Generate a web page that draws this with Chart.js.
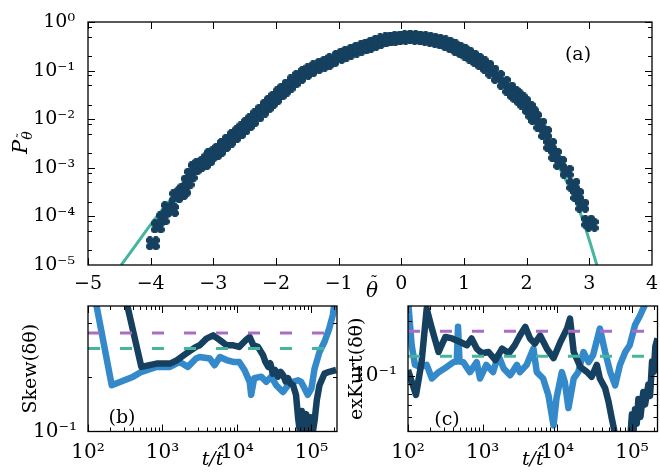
<!DOCTYPE html>
<html><head><meta charset="utf-8">
<script src="https://cdn.jsdelivr.net/npm/chart.js@4.4.1/dist/chart.umd.min.js"></script>
<style>
html,body{margin:0;padding:0;background:#fff;}
#wrap{position:relative;width:660px;height:474px;overflow:hidden;background:#fff;}
canvas{position:absolute;left:0;top:0;}
</style></head><body>
<div id="wrap">
<canvas id="cA" width="660" height="474"></canvas>
<canvas id="cB" width="660" height="474"></canvas>
<canvas id="cC" width="660" height="474"></canvas>
</div>
<script>
// ---------- Panel (a): PDF data ----------
const thetaData = [-3.965,-3.886,-3.807,-3.727,-3.66,-3.594,-3.515,-3.463,-3.41,-3.36,-3.30,-3.225,-3.146,-3.08,-3.04,-2.97,-2.908,-2.83,-2.75,-2.67,-2.59,-2.52,-2.45,-2.38,-2.30,-2.22,-2.15,-2.08,-2.01,-1.94,-1.87,-1.80,-1.72,-1.63,-1.535,-1.45,-1.36,-1.27,-1.19,-1.10,-1.0,-0.92,-0.848,-0.76,-0.68,-0.6,-0.53,-0.45,-0.37,-0.29,-0.21,-0.14,-0.06,0.02,0.1,0.18,0.26,0.34,0.42,0.5,0.58,0.66,0.737,0.82,0.9,0.98,1.054,1.13,1.21,1.29,1.37,1.45,1.54,1.635,1.72,1.79,1.85,1.905,1.96,2.032,2.09,2.136,2.216,2.295,2.374,2.453,2.533,2.639,2.745,2.808,2.887,2.982,3.035];
const pdfData = [2.8e-5,6.2e-5,9.1e-5,1.48e-4,1.35e-4,2.57e-4,3.0e-4,3.55e-4,5.2e-4,7.2e-4,9.8e-4,1.15e-3,1.26e-3,1.51e-3,1.82e-3,2.0e-3,2.34e-3,2.95e-3,3.63e-3,4.47e-3,5.37e-3,6.46e-3,7.94e-3,9.55e-3,1.2e-2,1.51e-2,1.86e-2,2.29e-2,2.75e-2,3.39e-2,4.07e-2,4.9e-2,6.03e-2,7.41e-2,8.91e-2,0.102,0.117,0.132,0.145,0.166,0.191,0.214,0.234,0.257,0.282,0.302,0.324,0.355,0.389,0.417,0.437,0.457,0.468,0.479,0.49,0.49,0.479,0.468,0.452,0.427,0.407,0.38,0.355,0.316,0.282,0.251,0.224,0.195,0.166,0.141,0.12,9.55e-2,7.41e-2,5.62e-2,4.27e-2,3.47e-2,2.95e-2,2.57e-2,2.19e-2,1.7e-2,1.32e-2,1.06e-2,7.76e-3,5.19e-3,2.98e-3,1.86e-3,1.26e-3,8.3e-4,4.47e-4,2.77e-4,1.66e-4,7.8e-5,6.7e-5];
const thetaFit = [-4.47,-4.2,-3.97,-3.67,-3.4,-3.1,-2.8,-2.33,-2.0,-1.6,-1.2,-0.8,-0.4,0.0,0.2,0.5,0.8,1.1,1.4,1.7,2.0,2.16,2.35,2.54,2.7,2.857,2.99,3.12];
const pdfFit = [1e-5,3.0e-5,7.6e-5,2.34e-4,6.3e-4,1.7e-3,4.17e-3,1.35e-2,2.82e-2,7.08e-2,0.145,0.251,0.372,0.468,0.49,0.437,0.324,0.204,0.11,5.01e-2,1.58e-2,7.41e-3,2.69e-3,9.1e-4,3.55e-4,1.17e-4,3.55e-5,1e-5];
const xTicksA = [-5,-4,-3,-2,-1,0,1,2,3,4];
const yTicksA = [1e-5,1e-4,1e-3,1e-2,1e-1,1];
const yMinorA = [2e-5,5e-5,8e-5,2e-4,5e-4,8e-4,2e-3,5e-3,8e-3,2e-2,5e-2,8e-2,0.2,0.5,0.8];

// ---------- Panel (b): Skew ----------
const tSkewLight = [100,208,405,523,832,1260,1700,2190,2820,3160,4320,5000,5890,7240,8900,10700,12600,14800,15500,17000,21200,24700,28800,33600,41400,48500,56600,66100,72400,80600,89000,100000,110000,128000,149000,173000,193000,205000,220000];
const skewLight = [0.89,0.181,0.202,0.215,0.229,0.229,0.244,0.229,0.255,0.26,0.255,0.234,0.26,0.25,0.244,0.244,0.22,0.189,0.16,0.198,0.202,0.189,0.202,0.181,0.166,0.181,0.189,0.193,0.189,0.174,0.16,0.174,0.224,0.277,0.315,0.374,0.444,0.53,0.6];
const tSkewDark = [300,520,832,1260,1550,2090,2820,3160,3890,4790,5890,7240,8900,10700,13200,14800,16600,19100,22400,24000,26300,28000,30200,32500,35500,38500,41700,45000,48500,52000,56600,62000,66000,70000,74000,78000,85000,90000,97000,104000,110000,118000,128000,149000,173000,214000];
const skewDark = [0.62,0.229,0.239,0.239,0.249,0.272,0.296,0.302,0.329,0.343,0.323,0.302,0.302,0.296,0.323,0.336,0.302,0.296,0.266,0.245,0.229,0.24,0.21,0.22,0.202,0.215,0.206,0.19,0.198,0.185,0.181,0.16,0.12,0.099,0.13,0.1,0.125,0.098,0.12,0.099,0.115,0.15,0.181,0.21,0.215,0.22];
const skewRefPurple = 0.354, skewRefTeal = 0.29;

// ---------- Panel (c): excess kurtosis ----------
const tKurtLight = [100,112,124,145,178,209,257,331,407,450,468,490,550,676,832,923,1120,1380,1620,1910,2340,2880,3160,3890,4790,5310,6460,7590,8900,9770,11500,12600,14100,16600,19100,22400,26300,30200,37200,43700,51300,59600,69200,81300,93300,110000,129000,148000,165000];
const kurtLight = [0.26,0.147,0.115,0.112,0.115,0.097,0.105,0.112,0.119,0.12,0.185,0.12,0.119,0.105,0.119,0.097,0.115,0.105,0.13,0.11,0.101,0.115,0.105,0.115,0.141,0.105,0.097,0.079,0.054,0.076,0.105,0.093,0.067,0.097,0.105,0.135,0.119,0.13,0.181,0.135,0.105,0.089,0.115,0.135,0.147,0.189,0.214,0.242,0.27];
const tKurtDark = [100,128,152,178,209,257,316,389,500,617,710,832,977,1200,1480,1820,2240,2690,3160,3720,4320,5000,5890,7240,8900,11000,13500,14800,16600,20400,25100,28800,33900,37200,43700,48400,53700,59600,70000,85000,95500,100000,105000,110000,116000,122000,130000,142000,150000,166000,175000,186000,196000,206000,220000];
const kurtDark = [0.108,0.079,0.119,0.232,0.181,0.135,0.163,0.16,0.153,0.147,0.16,0.141,0.133,0.135,0.122,0.141,0.133,0.147,0.166,0.185,0.16,0.15,0.166,0.141,0.125,0.153,0.181,0.205,0.135,0.112,0.105,0.099,0.115,0.097,0.086,0.073,0.059,0.048,0.035,0.035,0.048,0.062,0.05,0.066,0.055,0.075,0.06,0.082,0.07,0.09,0.078,0.12,0.105,0.145,0.16];
const kurtRefPurple = 0.175, kurtRefTeal = 0.128;

const tRefSpan = [100, 160000];
const xTicksLog = [1e2,1e3,1e4,1e5];
const xMinorLog = [2e2,3e2,4e2,5e2,6e2,7e2,8e2,9e2,2e3,3e3,4e3,5e3,6e3,7e3,8e3,9e3,2e4,3e4,4e4,5e4,6e4,7e4,8e4,9e4,2e5];
const yTicksB = [0.1], yMinorB = [0.2,0.4];
const yTicksC = [0.1], yMinorC = [0.05,0.06,0.07,0.08,0.09,0.2];

// ---------- styles ----------
const DARK = '#15405f', LIGHT = '#3389c9', TEAL = '#45b59b', PURPLE = '#ab6cc6';
const FONT = 'DejaVu Serif';
const TICKFONT_A = {family: FONT, size: 19};
const TICKFONT_B = {family: FONT, size: 20};
const TITLEFONT = {family: FONT, size: 19};

const SUP = {'-':'\u207B','0':'\u2070','1':'\u00B9','2':'\u00B2','3':'\u00B3','4':'\u2074','5':'\u2075','6':'\u2076','7':'\u2077','8':'\u2078','9':'\u2079'};
function powLabel(v){ const e = Math.round(Math.log10(v)); return '10' + String(e).split('').map(c => SUP[c]).join(''); }
function numLabel(v){ return v < 0 ? '\u2212' + Math.abs(v) : String(v); }

// fat X-shaped filled marker
function makeX(size, color){
  const c = document.createElement('canvas'); c.width = size; c.height = size;
  const g = c.getContext('2d'); const h = size/2, w = size*0.27;
  g.translate(h, h); g.rotate(Math.PI/4); g.fillStyle = color;
  g.fillRect(-h*1.15, -w, h*2.3, 2*w); g.fillRect(-w, -h*1.15, 2*w, h*2.3);
  return c;
}
const xMarker = makeX(14, DARK);

const framePlugin = {
  id: 'frame',
  afterDatasetsDraw(chart, args, o) {
    const ctx = chart.ctx, a = chart.chartArea, xs = chart.scales.x, ys = chart.scales.y;
    ctx.save(); ctx.strokeStyle = '#000'; ctx.lineWidth = 1;
    ctx.beginPath();
    const doX = (vals, len) => vals.forEach(v => { const p = Math.round(xs.getPixelForValue(v)) + 0.5; if (p < a.left || p > a.right) return;
      ctx.moveTo(p, a.bottom); ctx.lineTo(p, a.bottom - len); ctx.moveTo(p, a.top); ctx.lineTo(p, a.top + len); });
    const doY = (vals, len) => vals.forEach(v => { const p = Math.round(ys.getPixelForValue(v)) + 0.5; if (p < a.top || p > a.bottom) return;
      ctx.moveTo(a.left, p); ctx.lineTo(a.left + len, p); ctx.moveTo(a.right, p); ctx.lineTo(a.right - len, p); });
    doX(xs.ticks.map(t => t.value), 7); doX(o.xMinor || [], 4);
    doY(ys.ticks.map(t => t.value), 7); doY(o.yMinor || [], 4);
    ctx.stroke();
    ctx.lineWidth = 1.3; ctx.strokeRect(a.left, a.top, a.right - a.left, a.bottom - a.top);
    ctx.restore();
  }
};
const textPlugin = {
  id: 'texts',
  afterDraw(chart, args, o) {
    const ctx = chart.ctx; ctx.save(); ctx.fillStyle = '#000';
    (o.items || []).forEach(it => {
      ctx.font = (it.italic ? 'italic ' : '') + it.size + 'px ' + FONT;
      ctx.textAlign = 'center'; ctx.textBaseline = 'middle';
      ctx.fillText(it.text, it.x, it.y);
    });
    if (o.thetaLabel) {  // x title: theta with tilde
      const t = o.thetaLabel;
      ctx.textAlign = 'center'; ctx.textBaseline = 'alphabetic';
      ctx.font = 'italic 20px ' + FONT; ctx.fillText('\u03B8', t.x, t.y);
      ctx.font = '16px ' + FONT; ctx.fillText('\u02DC', t.x + 2, t.y - 9);
    }
    if (o.pLabel) {  // y title: P with subscript theta-tilde
      ctx.translate(o.pLabel.x, o.pLabel.y); ctx.rotate(-Math.PI/2);
      ctx.textAlign = 'left'; ctx.textBaseline = 'alphabetic';
      ctx.font = 'italic 21px ' + FONT; ctx.fillText('P', 0, 0);
      const w = ctx.measureText('P').width;
      ctx.font = 'italic 14px ' + FONT; ctx.fillText('\u03B8', w, 5);
      ctx.font = '11px ' + FONT; ctx.fillText('\u02DC', w + 1.5, -2);
    }
    ctx.restore();
  }
};

const common = { responsive: false, animation: false, devicePixelRatio: 1, events: [] };

// ---------- Chart (a) ----------
new Chart(document.getElementById('cA'), {
  type: 'scatter',
  data: { datasets: [
    { type: 'scatter', data: thetaData.map((x, i) => ({x, y: pdfData[i]})), pointStyle: xMarker, pointRadius: 7, backgroundColor: DARK, borderColor: DARK, order: 1 },
    { type: 'line', data: thetaFit.map((x, i) => ({x, y: pdfFit[i]})), borderColor: TEAL, borderWidth: 3, pointRadius: 0, cubicInterpolationMode: 'monotone', fill: false, order: 2 }
  ]},
  options: Object.assign({}, common, {
    layout: { padding: { left: 0, top: 22, right: 4, bottom: 474 - 265 - 36 } },
    plugins: { legend: {display: false}, tooltip: {enabled: false},
      frame: { yMinor: yMinorA },
      texts: { items: [{text: '(a)', x: 578, y: 55, size: 19}], pLabel: {x: 27, y: 154}, thetaLabel: {x: 372, y: 297} } },
    scales: {
      x: { type: 'linear', min: -5, max: 4, grid: {display: false}, border: {display: false},
        afterBuildTicks: s => { s.ticks = xTicksA.map(v => ({value: v})); },
        afterFit: s => { s.height = 36; },
        ticks: { font: TICKFONT_A, color: '#000', padding: 0, autoSkip: false, maxRotation: 0, callback: v => numLabel(v) } },
      y: { type: 'logarithmic', min: 1e-5, max: 1, grid: {display: false}, border: {display: false},
        afterBuildTicks: s => { s.ticks = yTicksA.map(v => ({value: v})); },
        afterFit: s => { s.width = 88; },
        ticks: { font: TICKFONT_A, color: '#000', padding: 5, autoSkip: false, callback: v => powLabel(v) } }
    }
  }),
  plugins: [framePlugin, textPlugin]
});

function bottomChart(id, padL, yW, padR, yMin, yMax, yTicks, yMinor, yTitle, series, refP, refT, letter) {
  const ds = series.map(s => ({ type: 'line', data: s.t.map((x, i) => ({x, y: s.v[i]})), borderColor: s.c, borderWidth: 6.5, pointRadius: 0, tension: 0, borderJoinStyle: 'round', fill: false, order: s.o }));
  ds.push({ type: 'line', data: tRefSpan.map(x => ({x, y: refP})), borderColor: PURPLE, borderWidth: 3, borderDash: [12, 20], pointRadius: 0, order: 0 });
  ds.push({ type: 'line', data: tRefSpan.map(x => ({x, y: refT})), borderColor: TEAL, borderWidth: 3, borderDash: [12, 20], pointRadius: 0, order: 0 });
  new Chart(document.getElementById(id), {
    type: 'line',
    data: { datasets: ds },
    options: Object.assign({}, common, {
      layout: { padding: { left: padL, top: 306, right: padR, bottom: 474 - 431.5 - 40 } },
      plugins: { legend: {display: false}, tooltip: {enabled: false},
        frame: { xMinor: xMinorLog, yMinor: yMinor },
        texts: { items: [letter] } },
      scales: {
        x: { type: 'logarithmic', min: 100, max: 220000, grid: {display: false}, border: {display: false},
          afterBuildTicks: s => { s.ticks = xTicksLog.map(v => ({value: v})); },
          afterFit: s => { s.height = 40; },
          ticks: { font: TICKFONT_B, color: '#000', padding: 1, autoSkip: false, maxRotation: 0, callback: v => powLabel(v) },
          title: { display: true, text: 't/t\u0302', font: {family: FONT, size: 19, style: 'italic'}, color: '#000', padding: 0 } },
        y: { type: 'logarithmic', min: yMin, max: yMax, grid: {display: false}, border: {display: false},
          afterBuildTicks: s => { s.ticks = yTicks.map(v => ({value: v})); },
          afterFit: s => { s.width = yW; },
          ticks: { font: TICKFONT_B, color: '#000', padding: 3, autoSkip: false, callback: v => powLabel(v) },
          title: { display: true, text: yTitle, font: TITLEFONT, color: '#000', padding: 0 } }
      }
    }),
    plugins: [framePlugin, textPlugin]
  });
}

bottomChart('cB', 20, 68, 323, 0.1, 0.5, yTicksB, yMinorB, 'Skew(\u03B4\u03B8)',
  [{t: tSkewLight, v: skewLight, c: LIGHT, o: 2}, {t: tSkewDark, v: skewDark, c: DARK, o: 1}],
  skewRefPurple, skewRefTeal, {text: '(b)', x: 122, y: 418, size: 19});
bottomChart('cC', 346, 62, 2.5, 0.05, 0.24, yTicksC, yMinorC, 'exKurt(\u03B4\u03B8)',
  [{t: tKurtLight, v: kurtLight, c: LIGHT, o: 2}, {t: tKurtDark, v: kurtDark, c: DARK, o: 1}],
  kurtRefPurple, kurtRefTeal, {text: '(c)', x: 447, y: 420, size: 19});
</script>
</body></html>
